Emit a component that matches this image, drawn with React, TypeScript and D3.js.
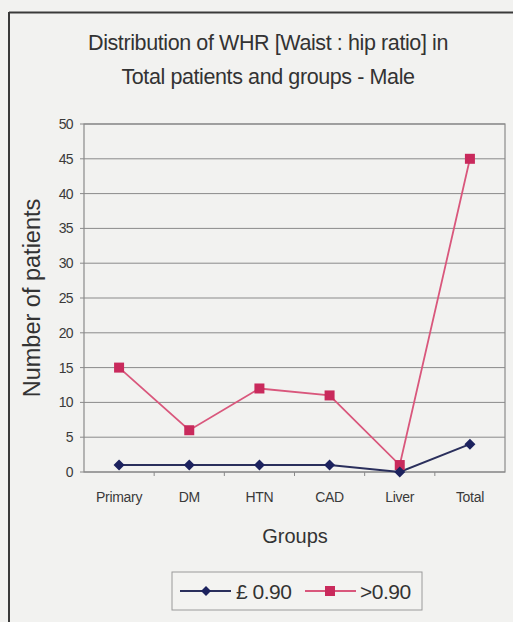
import React from "react";
import * as d3 from "d3";

const groups = ["Primary", "DM", "HTN", "CAD", "Liver", "Total"];
const lowWhr = [1, 1, 1, 1, 0, 4];
const highWhr = [15, 6, 12, 11, 1, 45];
const yTicks = [0, 5, 10, 15, 20, 25, 30, 35, 40, 45, 50];
const seriesNames = ["£ 0.90", ">0.90"];

const W = 513;
const H = 622;
const plot = { left: 84, right: 505, top: 124, bottom: 472 };

const navy = "#1c225e";
const navyLine = "#2a2f5c";
const pink = "#c92a5c";
const pinkLine = "#d9577c";
const font = "'Liberation Sans', Arial, sans-serif";

export default function App() {
  const x = d3
    .scaleBand<string>()
    .domain(groups)
    .range([plot.left, plot.right])
    .paddingInner(0)
    .paddingOuter(0);
  const y = d3.scaleLinear().domain([0, 50]).range([plot.bottom, plot.top]);
  const cx = (g: string) => (x(g) ?? 0) + x.bandwidth() / 2;

  const line = d3
    .line<number>()
    .x((_, i) => cx(groups[i]))
    .y((d) => y(d));

  const diamond = (px: number, py: number, r = 5.5) =>
    `M${px},${py - r}L${px + r},${py}L${px},${py + r}L${px - r},${py}Z`;

  return (
    <svg
      width={W}
      height={H}
      style={{ position: "absolute", left: 0, top: 0 }}
      fontFamily={font}
    >
      <rect x={0} y={0} width={W} height={H} fill="#f2f2f0" />
      {/* outer frame */}
      <line x1={9} x2={W} y1={12.5} y2={12.5} stroke="#3a3a3a" strokeWidth={2} />
      <line x1={9} x2={9} y1={12} y2={H} stroke="#3a3a3a" strokeWidth={2} />

      {/* title */}
      <text x={268} y={50} textAnchor="middle" fontSize={21.5} fill="#333" letterSpacing={-0.4}>
        Distribution of WHR [Waist : hip ratio] in
      </text>
      <text x={268} y={84} textAnchor="middle" fontSize={21.5} fill="#333" letterSpacing={-0.4}>
        Total patients and groups - Male
      </text>

      {/* gridlines */}
      {yTicks.map((t) => (
        <line
          key={t}
          x1={plot.left}
          x2={plot.right}
          y1={y(t)}
          y2={y(t)}
          stroke="#8a8a8a"
          strokeWidth={1}
        />
      ))}
      <rect
        x={plot.left}
        y={plot.top}
        width={plot.right - plot.left}
        height={plot.bottom - plot.top}
        fill="none"
        stroke="#8a8a8a"
        strokeWidth={1.2}
      />
      {/* y tick marks and labels */}
      {yTicks.map((t) => (
        <g key={"yt" + t}>
          <line x1={plot.left - 4} x2={plot.left} y1={y(t)} y2={y(t)} stroke="#8a8a8a" />
          <text
            x={plot.left - 11}
            y={y(t)}
            dy="0.35em"
            textAnchor="end"
            fontSize={14}
            fill="#3a3a3a"
            letterSpacing={-0.6}
          >
            {t}
          </text>
        </g>
      ))}
      {/* x tick marks and labels */}
      {groups.map((g, i) => (
        <g key={g}>
          {i > 0 && (
            <line
              x1={x(g)}
              x2={x(g)}
              y1={plot.bottom}
              y2={plot.bottom + 4}
              stroke="#8a8a8a"
            />
          )}
          <text
            x={cx(g)}
            y={502}
            textAnchor="middle"
            fontSize={14}
            fill="#3a3a3a"
            letterSpacing={-0.3}
          >
            {g}
          </text>
        </g>
      ))}

      {/* axis titles */}
      <text
        transform={`translate(40,${(plot.top + plot.bottom) / 2}) rotate(-90)`}
        textAnchor="middle"
        fontSize={23.5}
        fill="#333"
      >
        Number of patients
      </text>
      <text x={295} y={543} textAnchor="middle" fontSize={20} fill="#333">
        Groups
      </text>

      {/* series */}
      <path d={line(highWhr) ?? ""} fill="none" stroke={pinkLine} strokeWidth={1.8} />
      <path d={line(lowWhr) ?? ""} fill="none" stroke={navyLine} strokeWidth={2} />
      {highWhr.map((v, i) => (
        <rect
          key={"h" + i}
          x={cx(groups[i]) - 5}
          y={y(v) - 5}
          width={10}
          height={10}
          fill={pink}
        />
      ))}
      {lowWhr.map((v, i) => (
        <path key={"l" + i} d={diamond(cx(groups[i]), y(v))} fill={navy} />
      ))}

      {/* legend */}
      <rect x={172} y={572} width={250} height={38} fill="#f3f3f1" stroke="#9a9a9a" />
      <line x1={180} x2={231} y1={591} y2={591} stroke={navyLine} strokeWidth={2} />
      <path d={diamond(206, 591, 5)} fill={navy} />
      <text x={236} y={599} fontSize={21} fill="#333" letterSpacing={-0.5}>
        {seriesNames[0]}
      </text>
      <line x1={305} x2={356} y1={591} y2={591} stroke={pinkLine} strokeWidth={1.8} />
      <rect x={325} y={586} width={10} height={10} fill={pink} />
      <text x={360} y={599} fontSize={21} fill="#333" letterSpacing={-0.5}>
        {seriesNames[1]}
      </text>
    </svg>
  );
}
